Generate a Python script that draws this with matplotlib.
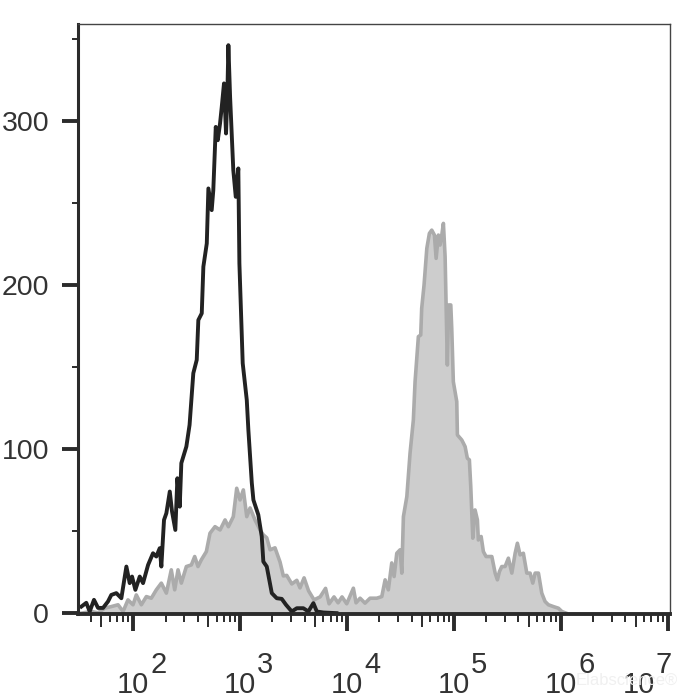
import numpy as np
import matplotlib
matplotlib.use('Agg')
import matplotlib.pyplot as plt
from matplotlib.ticker import LogLocator, FixedLocator, NullFormatter, NullLocator
from matplotlib.transforms import blended_transform_factory, offset_copy

plt.rcParams['font.family'] = ['Liberation Sans', 'DejaVu Sans']

# control histogram (black line), x as log10 of fluorescence
black_log = np.array([1.514, 1.560, 1.592, 1.632, 1.670, 1.717, 1.763, 1.794, 1.841, 1.888,
                      1.935, 1.966, 1.988, 2.019, 2.060, 2.091, 2.138, 2.184, 2.215, 2.247,
                      2.262, 2.287, 2.309, 2.341, 2.362, 2.393, 2.412, 2.434, 2.449, 2.496,
                      2.526, 2.561, 2.593, 2.608, 2.640, 2.655, 2.687, 2.702, 2.733, 2.748,
                      2.771, 2.790, 2.811, 2.827, 2.848, 2.867, 2.879, 2.889, 2.905, 2.935,
                      2.958, 2.982, 2.992, 3.023, 3.061, 3.076, 3.108, 3.123, 3.169, 3.201,
                      3.216, 3.248, 3.295, 3.341, 3.388, 3.428, 3.482, 3.529, 3.590, 3.637,
                      3.684, 3.716, 3.777, 3.900])
black_count = np.array([4.0, 6.3, 1.0, 8.1, 3.2, 3.2, 7.1, 11.1, 12.2, 9.1,
                        28.4, 18.3, 22.3, 14.2, 22.3, 18.3, 29.4, 36.5, 34.5, 39.6,
                        28.4, 56.8, 60.9, 74.1, 61.9, 50.7, 82.2, 64.9, 91.4, 101.5,
                        114.7, 146.2, 154.3, 178.6, 182.7, 211.1, 225.3, 258.8, 245.6, 257.8,
                        296.3, 288.2, 298.4, 308.5, 322.8, 292.3, 314.6, 346.1, 314.6, 270.0,
                        253.7, 271.0, 213.2, 152.3, 129.9, 111.6, 79.4, 69.0, 59.9, 46.7,
                        31.4, 28.4, 12.2, 9.1, 8.7, 5.1, 1.0, 3.0, 3.0, 1.0,
                        6.1, 1.0, 0.4, 0.0])

# stained sample (grey filled)
gray_log = np.array([1.514, 1.607, 1.670, 1.732, 1.794, 1.857, 1.904, 1.950, 1.997, 2.028,
                     2.075, 2.122, 2.168, 2.215, 2.262, 2.309, 2.355, 2.387, 2.418, 2.449,
                     2.496, 2.543, 2.574, 2.605, 2.636, 2.683, 2.717, 2.764, 2.811, 2.858,
                     2.889, 2.935, 2.967, 2.998, 3.029, 3.061, 3.092, 3.138, 3.185, 3.216,
                     3.248, 3.279, 3.325, 3.372, 3.403, 3.435, 3.482, 3.529, 3.559, 3.597,
                     3.639, 3.690, 3.747, 3.798, 3.831, 3.877, 3.915, 3.952, 3.996, 4.058,
                     4.083, 4.121, 4.167, 4.214, 4.277, 4.324, 4.355, 4.385, 4.417, 4.439,
                     4.464, 4.495, 4.511, 4.526, 4.558, 4.588, 4.619, 4.635, 4.666, 4.688,
                     4.697, 4.719, 4.745, 4.769, 4.791, 4.816, 4.832, 4.853, 4.869, 4.885,
                     4.900, 4.916, 4.937, 4.949, 4.969, 4.978, 4.993, 5.025, 5.031, 5.072,
                     5.103, 5.124, 5.143, 5.156, 5.175, 5.196, 5.218, 5.227, 5.253, 5.274,
                     5.299, 5.353, 5.384, 5.405, 5.424, 5.446, 5.477, 5.508, 5.540, 5.571,
                     5.592, 5.617, 5.648, 5.680, 5.711, 5.736, 5.758, 5.789, 5.820, 5.851,
                     5.882, 5.929, 5.976, 6.008, 6.048])
gray_count = np.array([0.0, 1.0, 0.2, 3.0, 4.0, 5.1, 1.0, 8.1, 5.1, 11.1,
                       5.1, 10.1, 9.1, 14.2, 18.3, 12.2, 26.4, 14.2, 26.4, 18.3,
                       28.4, 29.4, 34.5, 28.4, 32.5, 37.5, 48.7, 52.7, 50.7, 56.8,
                       52.7, 58.8, 76.1, 69.0, 75.1, 58.8, 64.1, 56.8, 50.7, 47.7,
                       45.9, 38.6, 39.8, 31.2, 22.7, 23.0, 17.8, 20.0, 15.4, 21.5,
                       13.6, 8.1, 9.9, 15.1, 5.7, 9.9, 6.3, 9.9, 5.7, 15.2,
                       6.3, 9.1, 6.1, 9.1, 9.1, 10.1, 20.3, 14.2, 30.6, 22.3,
                       36.5, 38.6, 24.4, 58.8, 71.0, 97.4, 117.7, 141.0, 168.5, 169.5,
                       185.7, 199.9, 222.3, 231.4, 233.4, 230.4, 216.2, 230.4, 224.3, 230.4,
                       237.5, 217.2, 151.2, 187.8, 187.8, 173.6, 141.0, 128.9, 108.6, 105.5,
                       101.5, 94.4, 93.4, 77.1, 45.7, 62.9, 56.8, 44.6, 46.7, 37.5,
                       34.5, 34.5, 24.4, 20.3, 25.3, 28.4, 28.4, 33.5, 24.4, 36.5,
                       42.6, 35.5, 36.5, 24.4, 24.4, 18.3, 24.4, 24.4, 12.2, 7.1,
                       5.1, 4.0, 3.0, 1.0, 0.0])

y_major = [0, 100, 200, 300]
y_minor = [50, 150, 250, 350]
x_decades = [2, 3, 4, 5, 6, 7]

fig = plt.figure(figsize=(7, 7), dpi=100)
ax = fig.add_axes([0.1117, 0.1229, 0.8454, 0.8428])

gx = 10 ** gray_log
ax.fill_between(gx, gray_count, 0, color='#cdcdcd', lw=0)
ax.plot(gx, gray_count, color='#ababab', lw=2.6)
ax.plot(10 ** black_log, black_count, color='#222222', lw=2.8)

ax.set_xscale('log')
ax.set_xlim(30.5, 1.045e7)
ax.set_ylim(-0.5, 359)

# x ticks: decades long, 5s medium, rest short
ax.xaxis.set_major_locator(LogLocator(base=10, numticks=20))
ax.xaxis.set_minor_locator(LogLocator(base=10, subs=[2, 3, 4, 6, 7, 8, 9], numticks=20))
ax.xaxis.set_major_formatter(NullFormatter())
ax.xaxis.set_minor_formatter(NullFormatter())
ax.tick_params(axis='x', which='major', length=12, width=2.8, color='#2b2b2b', direction='out')
ax.tick_params(axis='x', which='minor', length=5.8, width=1.4, color='#2b2b2b', direction='out')

sec = ax.secondary_xaxis('bottom')
sec.xaxis.set_major_locator(FixedLocator([5 * 10.0 ** k for k in range(1, 7)]))
sec.xaxis.set_minor_locator(NullLocator())
sec.xaxis.set_major_formatter(NullFormatter())
sec.tick_params(axis='x', which='major', length=9.4, width=1.4, color='#2b2b2b', direction='out')
sec.spines['bottom'].set_visible(False)

# y ticks
ax.set_yticks(y_major)
ax.set_yticks(y_minor, minor=True)
ax.set_yticklabels([str(v) for v in y_major])
ax.tick_params(axis='y', which='major', length=11.5, width=2.8, color='#2b2b2b',
               pad=9.4, labelsize=20.5, labelcolor='#333333')
ax.tick_params(axis='y', which='minor', length=4.3, width=1.4, color='#2b2b2b')

ax.spines['left'].set_linewidth(2.2)
ax.spines['bottom'].set_linewidth(2.8)
for s in ['left', 'bottom']:
    ax.spines[s].set_color('#2b2b2b')
for s in ['top', 'right']:
    ax.spines[s].set_linewidth(1.0)
    ax.spines[s].set_color('#444444')

# decade labels written as "10" plus raised exponent
trans = blended_transform_factory(ax.transData, fig.transFigure)
for i, k in enumerate(x_decades):
    shift = -29 if i == len(x_decades) - 1 else 0
    t1 = offset_copy(trans, fig=fig, x=shift, y=0, units='dots')
    t2 = offset_copy(trans, fig=fig, x=shift + 17, y=0, units='dots')
    ax.text(10.0 ** k, 0.01, '10', transform=t1, ha='center', va='baseline',
            fontsize=21, color='#333333', clip_on=False)
    ax.text(10.0 ** k, 0.0386, str(k), transform=t2, ha='left', va='baseline',
            fontsize=21, color='#333333', clip_on=False)

# faint watermark
fig.text(0.968, 0.022, 'Elabscience\u00ae', ha='right', va='baseline',
         fontsize=12, color='#f0f0f0')

fig.savefig('out.png', dpi=100)
